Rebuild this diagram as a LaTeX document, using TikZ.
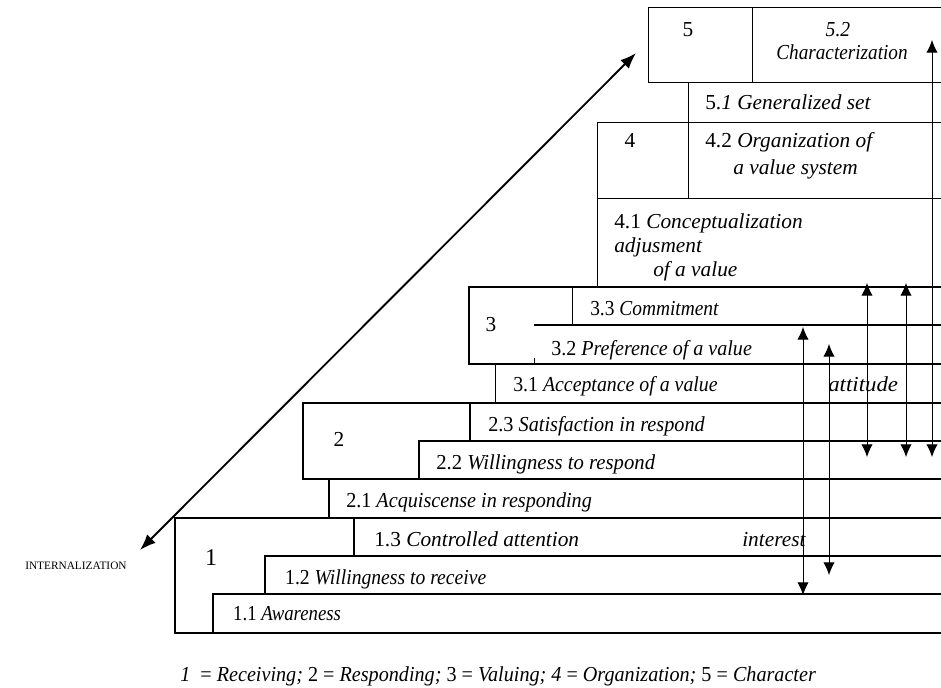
\documentclass[tikz,border=0pt]{standalone}
\usepackage{fontspec}
\setmainfont{Liberation Serif}
\usetikzlibrary{arrows.meta}
\tikzset{
  heavy/.style={line width=1.4pt},
  medium/.style={line width=1pt},
  light/.style={line width=0.7pt},
  lbl/.style={anchor=base west, inner sep=0pt, font=\fontsize{16}{19}\selectfont},
  num/.style={anchor=base, inner sep=0pt, font=\fontsize{16}{19}\selectfont},
  cond/.style={xscale=#1, transform shape},
  dbl/.style={line width=0.7pt, {Latex[length=9.5pt,width=8.5pt]}-{Latex[length=9.5pt,width=8.5pt]}},
}
\begin{document}
\begin{tikzpicture}[x=0.75pt,y=-0.75pt]
\useasboundingbox (0,0) rectangle (941,687);
% level 5
\draw[light] (941,7)--(648,7)--(648,82)--(941,82);
\draw[light] (752,7)--(752,82);
\draw[light] (688,82)--(688,122);
% level 4
\draw[light] (941,122)--(597,122)--(597,287);
\draw[light] (688,122)--(688,198);
\draw[light] (597,198)--(941,198);
% level 3
\draw[heavy] (941,287)--(469,287)--(469,364)--(941,364);
\draw[light] (572,287)--(572,325);
\draw[medium] (534,325)--(941,325);
\draw[light] (534,358)--(534,364);
\draw[light] (495,364)--(495,403);
% level 2
\draw[heavy] (941,403)--(303,403)--(303,479)--(941,479);
\draw[medium] (470,403)--(470,441);
\draw[heavy] (941,441)--(419,441)--(419,479);
\draw[medium] (329,479)--(329,518);
% level 1
\draw[heavy] (941,518)--(175,518)--(175,633)--(941,633);
\draw[heavy] (354,518)--(354,556);
\draw[heavy] (941,556)--(265,556)--(265,594);
\draw[heavy] (941,594)--(213,594)--(213,633);
% labels
\node[num] (n5) at (688,36) {5};
\node[num,cond=0.92] (n52) at (838,36) {\textit{5.2}};
\node[num,cond=0.9] (n52b) at (842,59) {\textit{Characterization}};
\node[lbl] (l51) at (705,109) {5.\textit{1 Generalized set}};
\node[num] (n4) at (630,147) {4};
\node[lbl] (l42) at (705,147) {4.2 \textit{Organization of}};
\node[lbl] (l42b) at (733,174) {\textit{a value system}};
\node[lbl] (l41) at (614,228) {4.1 \textit{Conceptualization}};
\node[lbl] (l41b) at (614,252) {\textit{adjusment}};
\node[lbl] (l41c) at (653,276) {\textit{of a value}};
\node[num] (n3) at (491,331) {3};
\node[lbl,cond=0.91] (l33) at (590,315) {3.3 \textit{Commitment}};
\node[lbl,cond=0.94] (l32) at (551,355) {3.2 \textit{Preference of a value}};
\node[lbl,cond=0.93] (l31) at (513,391) {3.1 \textit{Acceptance of a value}};
\node[lbl,cond=1.07] (att) at (828,391) {\textit{attitude}};
\node[num] (n2) at (339,446) {2};
\node[lbl,cond=0.95] (l23) at (488,431) {2.3 \textit{Satisfaction in respond}};
\node[lbl,cond=0.97] (l22) at (436,469) {2.2 \textit{Willingness to respond}};
\node[lbl,cond=0.945] (l21) at (346,507) {2.1 \textit{Acquiscense in responding}};
\node[num,font=\fontsize{18}{20}\selectfont] (n1) at (211,565) {1};
\node[lbl] (l13) at (374,546) {1.3 \textit{Controlled attention}};
\node[lbl] (int) at (742,546) {\textit{interest}};
\node[lbl,cond=0.92] (l12) at (285,584) {1.2 \textit{Willingness to receive}};
\node[lbl,cond=0.88] (l11) at (233,620) {1.1 \textit{Awareness}};
\node[anchor=base west, inner sep=0pt, font=\fontsize{8.5}{9}\selectfont] (intern) at (25,569) {INTERNALIZATION};
\node[lbl,cond=0.945] (cap) at (180,681) {\textit{1} \ = \textit{Receiving;} 2 = \textit{Responding;} 3 = \textit{Valuing;} \textit{4} = \textit{Organization;} 5 = \textit{Character}};
% arrows
\coordinate (dlo) at (140,550);
\coordinate (dhi) at (636,53);
\draw[line width=1.4pt, {Latex[length=12pt,width=9pt]}-{Latex[length=12pt,width=9pt]}] (dlo)--(dhi);
\coordinate (a1) at (803,327); \coordinate (a2) at (803,595);
\coordinate (b1) at (829,344); \coordinate (b2) at (829,575);
\coordinate (c1) at (867,283); \coordinate (c2) at (867,457);
\coordinate (d1) at (906,283); \coordinate (d2) at (906,457);
\coordinate (e1) at (932,40);  \coordinate (e2) at (932,457);
\foreach \p in {a,b,c,d,e}
  \draw[dbl] (\p1)--(\p2);
\end{tikzpicture}
\end{document}
